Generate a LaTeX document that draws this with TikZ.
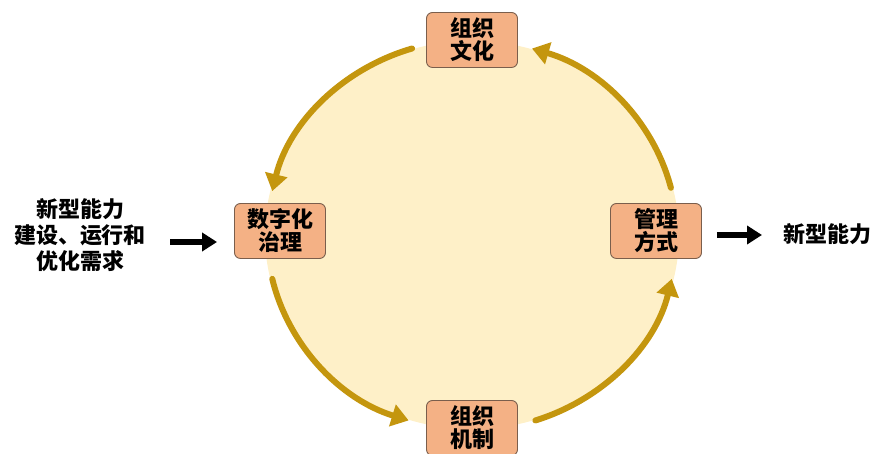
\documentclass[tikz,border=0pt]{standalone}
\usepackage{fontspec}
\usetikzlibrary{arrows.meta}
\newfontfamily\cjk{Noto Sans CJK SC}[BoldFont={Noto Sans CJK SC Black}]
\definecolor{cream}{HTML}{FEF0C8}
\definecolor{gold}{HTML}{C4960E}
\definecolor{boxfill}{HTML}{F4B185}
\definecolor{boxline}{HTML}{7A5E4C}
\begin{document}
\begin{tikzpicture}[x=1pt,y=1pt,
  box/.style={draw=boxline, line width=0.9pt, fill=boxfill, rounded corners=6pt,
    minimum width=91pt, minimum height=55pt, inner sep=0pt, align=center,
    font=\cjk\bfseries\fontsize{22}{23}\selectfont},
  cyc/.style={draw=gold, line width=6pt, line cap=round, -{Triangle[length=17pt,width=22pt]}},
  fwd/.style={draw=black, line width=5.5pt, -{Triangle[length=15pt,width=18pt]}},
  lbl/.style={align=center, inner sep=0pt, font=\cjk\bfseries\fontsize{22}{26}\selectfont}]
\useasboundingbox (0,0) rectangle (876,454);
\coordinate (c) at (472,219);
\fill[cream] (c) ellipse [x radius=207, y radius=194];
% cycle arcs
\path (c) ++(14:205pt and 195pt) coordinate (a1)
      (c) ++(107:205pt and 195pt) coordinate (a2)
      (c) ++(193:205pt and 195pt) coordinate (a3)
      (c) ++(288:205pt and 195pt) coordinate (a4);
\draw[cyc] (a1) arc[start angle=14, end angle=73, x radius=205, y radius=195];
\draw[cyc] (a2) arc[start angle=107, end angle=167, x radius=205, y radius=195];
\draw[cyc] (a3) arc[start angle=193, end angle=252, x radius=205, y radius=195];
\draw[cyc] (a4) arc[start angle=288, end angle=347, x radius=205, y radius=195];
% boxes
\node[box] (wh) at (472,414) {组织\\文化};
\node[box] (sz) at (280,223) {数字化\\治理};
\node[box] (gl) at (656,223) {管理\\方式};
\node[box] (jz) at (472,26) {组织\\机制};
% side labels
\node[lbl] (lt) at (80,219) {新型能力\\建设、运行和\\优化需求};
\node[lbl, anchor=west] (nr) at (783,220) {新型能力};
\draw[fwd, shorten <=24pt, shorten >=17pt] ([yshift=-7pt]lt.east) -- ([yshift=-7pt]lt.east -| sz.west);
\draw[fwd, shorten <=15pt, shorten >=21pt] ([yshift=-4pt]gl.east) -- ([yshift=-4pt]gl.east -| nr.west);
\end{tikzpicture}
\end{document}
